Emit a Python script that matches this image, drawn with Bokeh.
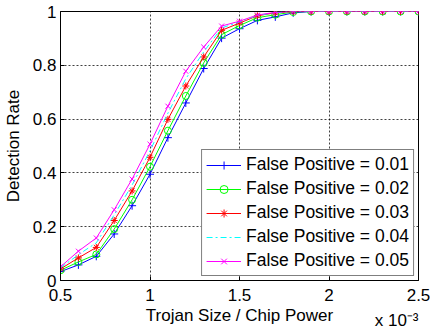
from bokeh.plotting import figure
from bokeh.models import Range1d, FixedTicker, Legend, Title
from bokeh.embed import file_html
from bokeh.resources import INLINE

# ---- data (x in units of 1e-3) ----
x_vals = [0.5, 0.6, 0.7, 0.8, 0.9, 1.0, 1.1, 1.2, 1.3, 1.4, 1.5,
          1.6, 1.7, 1.8, 1.9, 2.0, 2.1, 2.2, 2.3, 2.4, 2.5]
fp_001 = [0.033, 0.058, 0.090, 0.173, 0.278, 0.395, 0.531, 0.660, 0.788, 0.901, 0.936,
          0.967, 0.980, 0.995, 1.0, 1.0, 1.0, 1.0, 1.0, 1.0, 1.0]
fp_002 = [0.038, 0.069, 0.097, 0.191, 0.300, 0.423, 0.557, 0.686, 0.809, 0.914, 0.948,
          0.977, 0.988, 0.998, 1.0, 1.0, 1.0, 1.0, 1.0, 1.0, 1.0]
fp_003 = [0.043, 0.084, 0.123, 0.223, 0.333, 0.458, 0.599, 0.723, 0.831, 0.930, 0.957,
          0.984, 0.995, 1.0, 1.0, 1.0, 1.0, 1.0, 1.0, 1.0, 1.0]
fp_004 = [0.047, 0.096, 0.140, 0.244, 0.355, 0.482, 0.622, 0.750, 0.850, 0.939, 0.961,
          0.985, 0.996, 1.0, 1.0, 1.0, 1.0, 1.0, 1.0, 1.0, 1.0]
fp_005 = [0.051, 0.109, 0.158, 0.263, 0.377, 0.507, 0.648, 0.778, 0.868, 0.946, 0.964,
          0.987, 0.997, 1.0, 1.0, 1.0, 1.0, 1.0, 1.0, 1.0, 1.0]
series_labels = ["False Positive = 0.01", "False Positive = 0.02", "False Positive = 0.03",
                 "False Positive = 0.04", "False Positive = 0.05"]
x_ticks = [0.5, 1.0, 1.5, 2.0, 2.5]
x_tick_labels = ["0.5", "1", "1.5", "2", "2.5"]
y_ticks = [0.0, 0.2, 0.4, 0.6, 0.8, 1.0]
y_tick_labels = ["0", "0.2", "0.4", "0.6", "0.8", "1"]
x_label = "Trojan Size / Chip Power"
y_label = "Detection Rate"
x_multiplier = "x 10\u207b\u00b3"

FONT = "Liberation Sans"
FS = "17px"

p = figure(width=430, height=332, output_backend="svg", toolbar_location=None,
           x_range=Range1d(0.5, 2.5), y_range=Range1d(0, 1),
           min_border_left=60, min_border_right=12, min_border_top=11, min_border_bottom=52)
p.background_fill_color = "white"
p.border_fill_color = "white"
p.outline_line_color = "black"
p.outline_line_width = 1

for ax, ticks, labels in ((p.xaxis[0], x_ticks, x_tick_labels), (p.yaxis[0], y_ticks, y_tick_labels)):
    ax.ticker = FixedTicker(ticks=ticks)
    ax.major_label_overrides = {t: l for t, l in zip(ticks, labels)}
    ax.major_tick_in = 4
    ax.major_tick_out = 0
    ax.minor_tick_in = 0
    ax.minor_tick_out = 0
    ax.axis_line_color = "black"
    ax.major_tick_line_color = "black"
    ax.major_label_text_font = FONT
    ax.major_label_text_font_size = FS
    ax.major_label_text_color = "black"
    ax.axis_label_text_font = FONT
    ax.axis_label_text_font_size = FS
    ax.axis_label_text_font_style = "normal"
    ax.axis_label_text_color = "black"

p.xaxis.axis_label = x_label
p.yaxis.axis_label = y_label
p.xaxis.major_label_standoff = 8
p.xaxis.axis_label_standoff = 2
p.yaxis.major_label_standoff = 4
p.yaxis.axis_label_standoff = 7

p.grid.grid_line_color = "black"
p.grid.grid_line_alpha = 0.75
p.grid.grid_line_dash = "2 2"
p.grid.grid_line_width = 1
p.xgrid.ticker = FixedTicker(ticks=x_ticks)
p.ygrid.ticker = FixedTicker(ticks=y_ticks)

styles = [
    (fp_001, "#0000FF", "cross", "solid", 8),
    (fp_002, "#00FF00", "circle", "solid", 7),
    (fp_003, "#FF0000", "asterisk", "solid", 7),
    (fp_004, "#00FFFF", None, "6 3 2 3", 0),
    (fp_005, "#FF00FF", "x", "solid", 7),
]

items = []
for (ys, col, mk, dash, sz), lab in zip(styles, series_labels):
    rs = [p.line(x_vals, ys, line_color=col, line_width=1, line_dash=dash)]
    if mk is not None:
        rs.append(p.scatter(x_vals, ys, marker=mk, size=sz, line_color=col,
                            fill_color=None, line_width=1))
    items.append((lab, rs))

legend = Legend(items=items, location="bottom_right")
legend.label_text_font = FONT
legend.label_text_font_size = "17.5px"
legend.label_text_color = "black"
legend.glyph_width = 35
legend.glyph_height = 20
legend.label_height = 20
legend.spacing = 3
legend.padding = 4
legend.margin = 4
legend.label_standoff = 5
legend.border_line_color = "black"
legend.border_line_width = 1
legend.background_fill_color = "white"
legend.background_fill_alpha = 1
p.add_layout(legend, "center")

# the "x 10^-3" multiplier, right-aligned under the frame
mult = Title(text=x_multiplier, align="right", vertical_align="top", offset=0, standoff=-34,
             text_font=FONT, text_font_size=FS, text_font_style="normal", text_color="black")
p.add_layout(mult, "below")

open("out.html", "w").write(file_html(p, INLINE))
